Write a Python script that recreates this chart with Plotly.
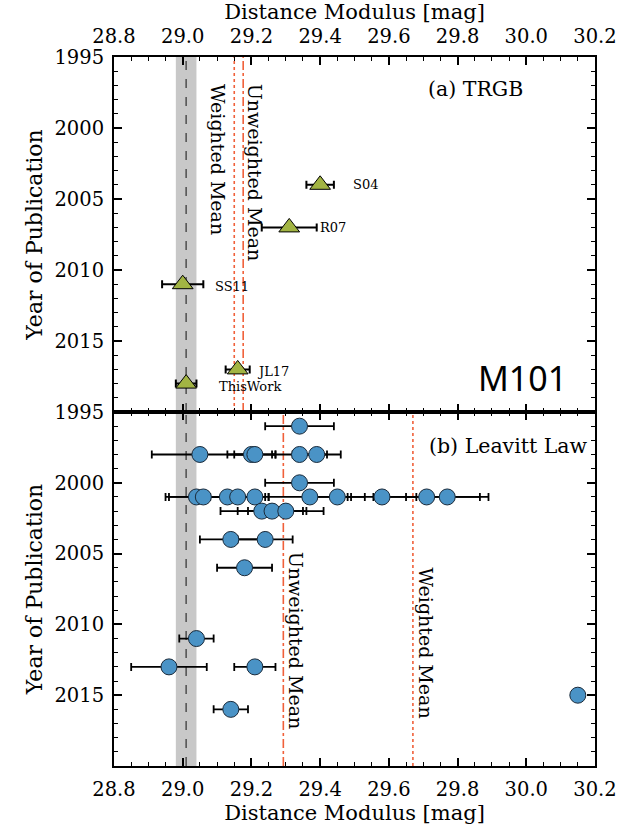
import plotly.graph_objects as go
import numpy as np

# ---------------- data ----------------
trgb_names = ["S04", "R07", "SS11", "JL17", "ThisWork"]
trgb_year = [2004, 2007, 2011, 2017, 2018]
trgb_mu = [29.40, 29.31, 29.00, 29.16, 29.01]
trgb_err = [0.04, 0.08, 0.06, 0.035, 0.03]
trgb_weighted_mean = 29.15

ll_year = [1996,
           1998, 1998, 1998, 1998, 1998,
           2000,
           2001, 2001, 2001, 2001, 2001, 2001, 2001, 2001, 2001, 2001,
           2002, 2002, 2002,
           2004, 2004,
           2006,
           2011,
           2013, 2013,
           2015,
           2016]
ll_mu = [29.34,
         29.05, 29.20, 29.21, 29.34, 29.39,
         29.34,
         29.04, 29.06, 29.13, 29.16, 29.21, 29.37, 29.45, 29.58, 29.71, 29.77,
         29.23, 29.26, 29.30,
         29.14, 29.24,
         29.18,
         29.04,
         28.96, 29.21,
         30.15,
         29.14]
ll_err = [0.10,
          0.14, 0.07, 0.06, 0.08, 0.07,
          0.10,
          0.09, 0.10, 0.07, 0.08, 0.04, 0.12, 0.08, 0.10, 0.155, 0.12,
          0.12, 0.10, 0.11,
          0.09, 0.08,
          0.08,
          0.05,
          0.11, 0.06,
          0.0,
          0.05]
ll_weighted_mean = 29.67

this_work_mu = 29.01
this_work_err = 0.03

x_ticks = [28.8, 29.0, 29.2, 29.4, 29.6, 29.8, 30.0, 30.2]
y_ticks = [1995, 2000, 2005, 2010, 2015]

# ---------------- style ----------------
SERIF = "DejaVu Serif"
ORANGE = "#F0603A"
GREEN = "#A2B443"
BLUE = "#4A93C6"
GRAY = "#C8C8C8"

fig = go.Figure()

# TRGB panel
fig.add_trace(go.Scatter(
    x=trgb_mu, y=trgb_year, mode="markers",
    marker=dict(symbol="triangle-up", size=18, color=GREEN,
                line=dict(color="black", width=1)),
    error_x=dict(type="data", array=trgb_err, color="black",
                 thickness=2, width=4),
    xaxis="x", yaxis="y", showlegend=False, hoverinfo="skip"))

# Leavitt Law panel
fig.add_trace(go.Scatter(
    x=ll_mu, y=ll_year, mode="markers",
    marker=dict(symbol="circle", size=16, color=BLUE,
                line=dict(color="#1a2a3a", width=1)),
    error_x=dict(type="data", array=ll_err, color="black",
                 thickness=1.8, width=4),
    xaxis="x2", yaxis="y2", showlegend=False, hoverinfo="skip"))

shapes = []
trgb_unweighted = float(np.mean(trgb_mu))
ll_unweighted = float(np.mean(ll_mu))
for xr, yr, wm, um in [("x", "y", trgb_weighted_mean, trgb_unweighted),
                       ("x2", "y2", ll_weighted_mean, ll_unweighted)]:
    shapes.append(dict(type="rect", xref=xr, yref=yr + " domain",
                       x0=this_work_mu - this_work_err, x1=this_work_mu + this_work_err,
                       y0=0, y1=1, fillcolor=GRAY, line=dict(width=0), layer="below"))
    shapes.append(dict(type="line", xref=xr, yref=yr + " domain",
                       x0=this_work_mu, x1=this_work_mu, y0=0, y1=1,
                       line=dict(color="#555555", width=1.6, dash="dash"), layer="below"))
    shapes.append(dict(type="line", xref=xr, yref=yr + " domain",
                       x0=wm, x1=wm, y0=0, y1=1,
                       line=dict(color=ORANGE, width=1.6, dash="dot"), layer="below"))
    shapes.append(dict(type="line", xref=xr, yref=yr + " domain",
                       x0=um, x1=um, y0=0, y1=1,
                       line=dict(color=ORANGE, width=1.6, dash="dashdot"), layer="below"))

annotations = []
# point labels (TRGB)
label_shift = {"S04": 31, "R07": 29, "SS11": 30, "JL17": 17, "ThisWork": 31}
label_yshift = {"S04": 0, "R07": 0, "SS11": -2, "JL17": -2, "ThisWork": -3}
for n, m, yv in zip(trgb_names, trgb_mu, trgb_year):
    annotations.append(dict(x=m, y=yv, xref="x", yref="y", text=n, showarrow=False,
                            xanchor="left", yanchor="middle",
                            xshift=label_shift[n], yshift=label_yshift[n],
                            font=dict(family=SERIF, size=13, color="black")))

# mean labels
annotations += [
    dict(x=trgb_weighted_mean, y=0.93, xref="x", yref="y domain", text="Weighted Mean",
         textangle=90, showarrow=False, xanchor="center", yanchor="top", xshift=-17,
         font=dict(family=SERIF, size=19, color="black")),
    dict(x=trgb_unweighted, y=0.93, xref="x", yref="y domain", text="Unweighted Mean",
         textangle=90, showarrow=False, xanchor="center", yanchor="top", xshift=12,
         font=dict(family=SERIF, size=19, color="black")),
    dict(x=ll_unweighted, y=0.61, xref="x2", yref="y2 domain", text="Unweighted Mean",
         textangle=90, showarrow=False, xanchor="center", yanchor="top", xshift=13,
         font=dict(family=SERIF, size=19, color="black")),
    dict(x=ll_weighted_mean, y=0.565, xref="x2", yref="y2 domain", text="Weighted Mean",
         textangle=90, showarrow=False, xanchor="center", yanchor="top", xshift=13,
         font=dict(family=SERIF, size=19, color="black")),
    dict(x=0.855, y=0.91, xref="x domain", yref="y domain", text="(a) TRGB",
         showarrow=False, xanchor="right", yanchor="middle",
         font=dict(family=SERIF, size=20.5, color="black")),
    dict(x=0.99, y=0.905, xref="x2 domain", yref="y2 domain", text="(b) Leavitt Law",
         showarrow=False, xanchor="right", yanchor="middle",
         font=dict(family=SERIF, size=20.5, color="black")),
    dict(x=0.946, y=0.095, xref="x domain", yref="y domain", text="M101",
         showarrow=False, xanchor="right", yanchor="middle",
         font=dict(family="Noto Sans", size=34, color="black")),
]

split = 354 / 709

xcommon = dict(range=[28.8, 30.2], tickvals=x_ticks, ticktext=[f"{v:.1f}" for v in x_ticks],
               ticks="inside", ticklen=8, tickwidth=1.5, tickcolor="black",
               showline=True, linewidth=2, linecolor="black", mirror="ticks",
               showgrid=False, zeroline=False, automargin=False,
               minor=dict(ticks="inside", dtick=0.05, tick0=28.8, ticklen=4,
                          tickwidth=1.3, tickcolor="black", showgrid=False),
               tickfont=dict(family=SERIF, size=19.5, color="black"))
ycommon = dict(range=[2020, 1995], tickvals=y_ticks,
               ticks="inside", ticklen=8, tickwidth=1.5, tickcolor="black",
               showline=True, linewidth=2, linecolor="black", mirror="ticks",
               showgrid=False, zeroline=False, automargin=False,
               minor=dict(ticks="inside", dtick=1, tick0=1995, ticklen=4,
                          tickwidth=1.3, tickcolor="black", showgrid=False),
               tickfont=dict(family=SERIF, size=19.5, color="black"),
               ticklabelstandoff=4,
               title=dict(text="Year of Publication",
                          font=dict(family=SERIF, size=22, color="black"),
                          standoff=6))

fig.update_layout(
    width=633, height=832,
    margin=dict(l=114, r=38, t=57, b=66, pad=0, autoexpand=False),
    paper_bgcolor="white", plot_bgcolor="white",
    xaxis=dict(xcommon, anchor="y", side="top", ticklabelstandoff=4,
               title=dict(text="Distance Modulus [mag]",
                          font=dict(family=SERIF, size=21, color="black"), standoff=0)),
    xaxis2=dict(xcommon, anchor="y2", side="bottom", ticklabelstandoff=5,
                title=dict(text="Distance Modulus [mag]",
                           font=dict(family=SERIF, size=21, color="black"), standoff=2)),
    yaxis=dict(ycommon, domain=[split, 1], anchor="x"),
    yaxis2=dict(ycommon, domain=[0, split], anchor="x2"),
    shapes=shapes, annotations=annotations,
)

fig.write_html("out.html")
